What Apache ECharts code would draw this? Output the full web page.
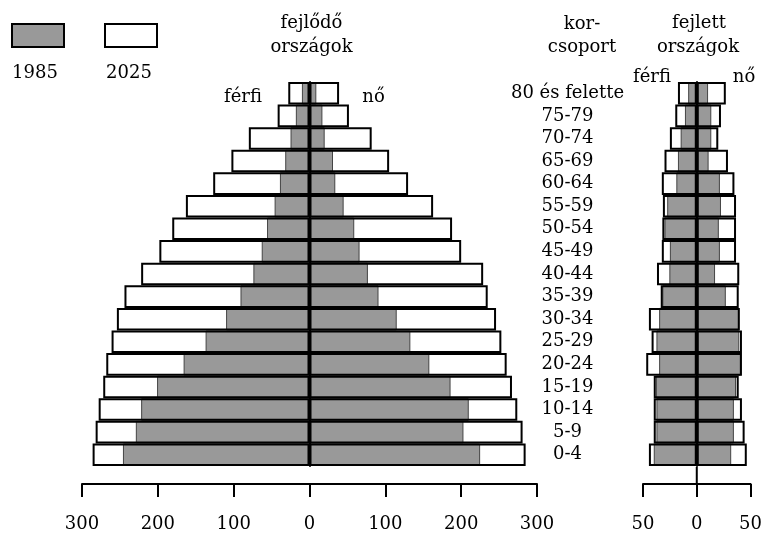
<!DOCTYPE html>
<html>
<head>
<meta charset="utf-8">
<script src="https://cdn.jsdelivr.net/npm/echarts@6/dist/echarts.min.js"></script>
<style>
html,body{margin:0;padding:0;background:#fff;}
#c{width:765px;height:533px;}
</style>
</head>
<body>
<div id="c"></div>
<script>
// Age groups, bottom to top
const categories = ['0-4','5-9','10-14','15-19','20-24','25-29','30-34','35-39','40-44','45-49','50-54','55-59','60-64','65-69','70-74','75-79','80 és felette'];

// Developing countries (fejlődő országok), millions
const devingMale1985   = [246, 229, 222, 201, 166, 137, 110, 91, 74, 63, 56, 46, 39, 32, 25, 18, 10];
const devingFemale1985 = [225, 203, 210, 186, 158, 133, 115, 91, 77, 66, 59, 45, 34, 31, 20, 17, 9];
const devingMale2025   = [286, 282, 278, 272, 268, 261, 254, 244, 222, 198, 181, 163, 127, 103, 80, 42, 28];
const devingFemale2025 = [285, 281, 274, 267, 260, 253, 246, 235, 229, 200, 188, 163, 130, 105, 82, 52, 39];

// Developed countries (fejlett országok), millions
const devedMale1985   = [40, 37.5, 37.5, 38, 35, 37.5, 35, 32, 25.5, 25, 30, 27.5, 19, 17.5, 15, 11, 8];
const devedFemale1985 = [32, 34.5, 34.5, 36.5, 41, 39.5, 39.5, 27, 17, 21.5, 20.5, 22.5, 21.5, 11, 13.5, 13.5, 10.5];
const devedMale2025   = [44.5, 40, 40, 40, 47, 42, 44.5, 33.5, 37, 32.5, 32, 31.5, 32.5, 30, 25, 20, 17.5];
const devedFemale2025 = [46.5, 44.5, 42, 39, 42, 42, 40, 39, 39.5, 36.5, 36.5, 36.5, 35, 29, 20, 22.5, 27];

const leftTicks = {min: -300, max: 300, interval: 100};
const rightTicks = {min: -50, max: 50, interval: 50};

const FONT = 'DejaVu Serif';
const FS = 18;
const GRAY = '#999999';

const neg = a => a.map(v => -v);

const chart = echarts.init(document.getElementById('c'), null, {renderer: 'canvas'});

const gridTop = 82, gridBottom = 66, axisOffset = 18;

function xAxisFor(gi, t) {
  return {
    type: 'value', gridIndex: gi, min: t.min, max: t.max, interval: t.interval,
    position: 'bottom', offset: axisOffset,
    axisLine: {show: true, onZero: false, lineStyle: {color: '#000', width: 2}},
    axisTick: {show: true, length: 13, lineStyle: {color: '#000', width: 2}},
    axisLabel: {show: true, margin: 31, color: '#000', fontFamily: FONT, fontSize: FS,
      formatter: v => String(Math.abs(v))},
    splitLine: {show: false}
  };
}

function barsFor(xi, yi, m85, f85, m25, f25) {
  const base = {type: 'bar', xAxisIndex: xi, yAxisIndex: yi, barGap: '-100%', barCategoryGap: '0%',
    silent: true, emphasis: {disabled: true}, animation: false};
  const gray = {color: GRAY, borderColor: '#444', borderWidth: 1};
  const outline = {color: 'rgba(0,0,0,0)', borderColor: '#000', borderWidth: 2};
  return [
    Object.assign({}, base, {name: '1985', data: neg(m85), itemStyle: gray}),
    Object.assign({}, base, {name: '1985', data: f85, itemStyle: gray}),
    Object.assign({}, base, {name: '2025', data: neg(m25), itemStyle: outline}),
    Object.assign({}, base, {name: '2025', data: f25, itemStyle: outline})
  ];
}

function txt(text, x, y) {
  return {type: 'text', x: x, y: y, silent: true,
    style: {text: text, fill: '#000', font: FS + 'px "' + FONT + '"', align: 'center', verticalAlign: 'middle'}};
}

const option = {
  backgroundColor: '#fff',
  animation: false,
  grid: [
    {left: 82, right: 228, top: gridTop, bottom: gridBottom},
    {left: 643, right: 12, top: gridTop, bottom: gridBottom}
  ],
  xAxis: [xAxisFor(0, leftTicks), xAxisFor(1, rightTicks)],
  yAxis: [
    {type: 'category', gridIndex: 0, data: categories, z: 5,
      axisLine: {show: true, onZero: true, lineStyle: {color: '#000', width: 2}},
      axisTick: {show: false}, axisLabel: {show: false}, splitLine: {show: false}},
    {type: 'category', gridIndex: 0, data: categories, position: 'right',
      axisLine: {show: false, onZero: false}, axisTick: {show: false}, splitLine: {show: false},
      axisLabel: {show: true, interval: 0, align: 'center', margin: 30.5, color: '#000', fontFamily: FONT, fontSize: FS}},
    {type: 'category', gridIndex: 1, data: categories, z: 5,
      axisLine: {show: true, onZero: true, lineStyle: {color: '#000', width: 2}},
      axisTick: {show: false}, axisLabel: {show: false}, splitLine: {show: false}}
  ],
  series: [].concat(
    barsFor(0, 0, devingMale1985, devingFemale1985, devingMale2025, devingFemale2025),
    barsFor(1, 2, devedMale1985, devedFemale1985, devedMale2025, devedFemale2025)
  ),
  graphic: [
    {type: 'rect', shape: {x: 12, y: 24, width: 52, height: 23}, silent: true,
      style: {fill: GRAY, stroke: '#000', lineWidth: 2}},
    {type: 'rect', shape: {x: 105, y: 24, width: 52, height: 23}, silent: true,
      style: {fill: '#fff', stroke: '#000', lineWidth: 2}},
    txt('1985', 35, 73),
    txt('2025', 129, 73),
    txt('fejlődő', 311.5, 23.5),
    txt('országok', 311.5, 47.5),
    txt('kor-', 582, 24.5),
    txt('csoport', 582, 47.5),
    txt('fejlett', 699, 23.5),
    txt('országok', 698, 47.5),
    txt('férfi', 243, 97.5),
    txt('nő', 373.5, 97.5),
    txt('férfi', 652, 77.5),
    txt('nő', 744, 77.5)
  ]
};

chart.setOption(option);

// extend the right-hand zero line down to its value axis
const x0 = chart.convertToPixel({xAxisIndex: 1}, 0);
const yB = 533 - gridBottom;
chart.setOption({graphic: option.graphic.concat([
  {type: 'line', silent: true, z: 10,
    shape: {x1: x0, y1: yB, x2: x0, y2: yB + axisOffset},
    style: {stroke: '#000', lineWidth: 2}}
])});
</script>
</body>
</html>
